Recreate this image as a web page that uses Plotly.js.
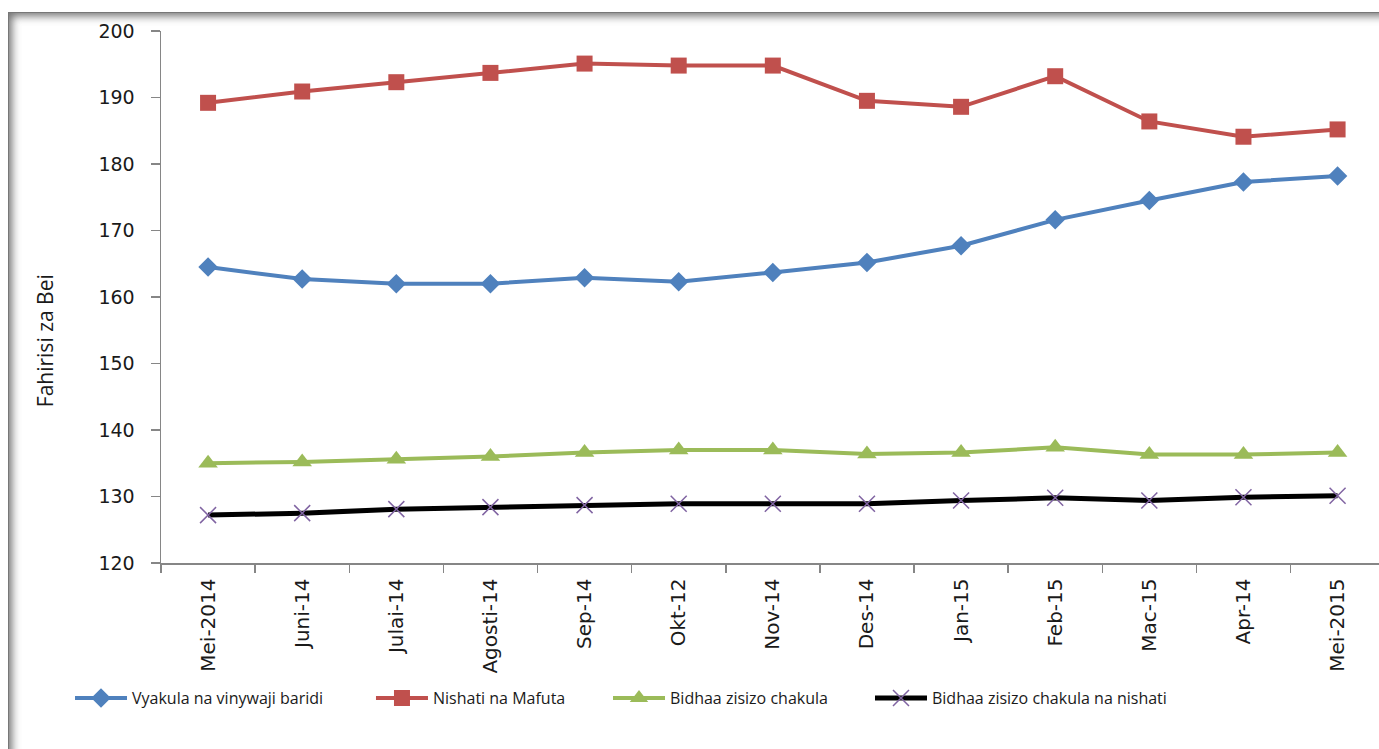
<!DOCTYPE html>
<html>
<head>
<meta charset="utf-8">
<script src="https://cdn.plot.ly/plotly-3.0.1.min.js"></script>
<style>
html,body{margin:0;padding:0;background:#fff;overflow:hidden;width:1379px;height:749px;}
#frame{position:absolute;left:8px;top:12px;width:1400px;height:760px;box-shadow:inset 0 0 9px 3px rgba(90,90,90,0.85);border-top:1px solid #777;border-left:1px solid #777;}
#chart{position:absolute;left:0;top:0;width:1379px;height:749px;}
</style>
</head>
<body>
<div id="frame"></div>
<div id="chart"></div>
<script>
const categories = ["Mei-2014","Juni-14","Julai-14","Agosti-14","Sep-14","Okt-12","Nov-14","Des-14","Jan-15","Feb-15","Mac-15","Apr-14","Mei-2015"];
const vyakula = [164.5,162.7,162.0,162.0,162.9,162.3,163.7,165.2,167.7,171.6,174.5,177.3,178.2];
const nishati = [189.2,190.9,192.3,193.7,195.1,194.8,194.8,189.5,188.6,193.2,186.4,184.1,185.2];
const bidhaa = [135.0,135.2,135.6,136.0,136.6,137.0,137.0,136.4,136.6,137.4,136.3,136.3,136.6];
const bidhaaNishati = [127.2,127.5,128.1,128.4,128.7,128.9,128.9,128.9,129.4,129.8,129.4,129.9,130.1];
const seriesNames = ["Vyakula na vinywaji baridi","Nishati na Mafuta","Bidhaa zisizo chakula","Bidhaa zisizo chakula na nishati"];
const yTitle = "Fahirisi za Bei";

const traces = [
  {x:categories,y:vyakula,name:seriesNames[0],type:'scatter',mode:'lines+markers',legend:'legend',
   line:{color:'#4F81BD',width:4},marker:{symbol:'diamond',size:15,color:'#4F81BD'}},
  {x:categories,y:nishati,name:seriesNames[1],type:'scatter',mode:'lines+markers',legend:'legend2',
   line:{color:'#C0504D',width:4},marker:{symbol:'square',size:16,color:'#C0504D'}},
  {x:categories,y:bidhaa,name:seriesNames[2],type:'scatter',mode:'lines+markers',legend:'legend3',
   line:{color:'#9BBB59',width:4},marker:{symbol:'triangle-up',size:17,color:'#9BBB59'}},
  {x:categories,y:bidhaaNishati,name:seriesNames[3],type:'scatter',mode:'lines+markers',legend:'legend4',
   line:{color:'#000000',width:5},marker:{symbol:'x-thin-open',size:16,line:{color:'#8064A2',width:1.5},color:'#8064A2'}}
];

function leg(x){
  return {orientation:'h',x:x,xanchor:'left',y:-0.254,yanchor:'middle',
    font:{family:'Open Sans',size:16,color:'#1a1a1a'},itemwidth:52,
    bgcolor:'rgba(0,0,0,0)'};
}

const layout = {
  width:1379,height:749,
  margin:{l:161,r:0,t:31,b:186},
  paper_bgcolor:'rgba(0,0,0,0)',plot_bgcolor:'rgba(0,0,0,0)',
  showlegend:true,
  xaxis:{type:'category',range:[-0.5,12.44],showgrid:false,zeroline:false,
    showline:true,linecolor:'#868686',linewidth:1.5,
    ticks:'outside',tickson:'boundaries',ticklen:8,tickcolor:'#868686',tickwidth:1.5,
    tickangle:-90,ticklabelstandoff:6,
    tickfont:{family:'DejaVu Sans',size:20,color:'#1a1a1a'}},
  yaxis:{range:[120,200],dtick:10,showgrid:false,zeroline:false,
    showline:true,linecolor:'#868686',linewidth:1.5,
    ticks:'outside',ticklen:9,tickcolor:'#868686',tickwidth:1.5,
    ticklabelstandoff:12,
    tickfont:{family:'DejaVu Sans',size:19,color:'#1a1a1a'}},
  legend:leg(-0.0747),
  legend2:leg(0.1724),
  legend3:leg(0.367),
  legend4:leg(0.5821),
  annotations:[{text:yTitle,xref:'paper',yref:'paper',x:-0.0952,y:0.417,
    xanchor:'center',yanchor:'middle',textangle:-90,showarrow:false,
    font:{family:'Open Sans',size:21,color:'#1a1a1a'}}]
};
Plotly.newPlot('chart',traces,layout,{displayModeBar:false,staticPlot:true});
</script>
</body>
</html>
